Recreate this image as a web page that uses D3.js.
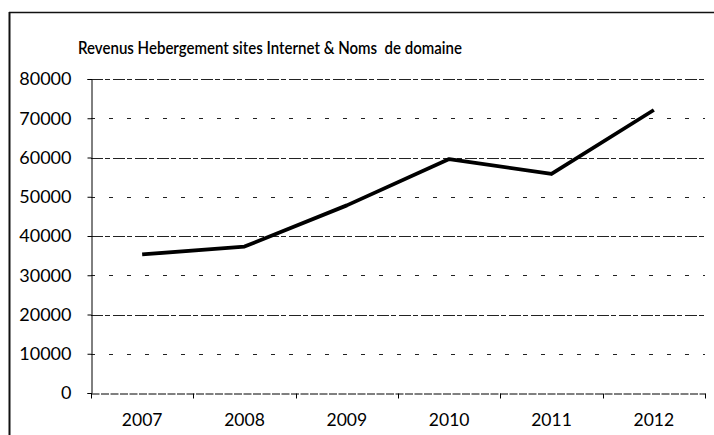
<!DOCTYPE html>
<html>
<head>
<meta charset="utf-8">
<script src="https://cdn.jsdelivr.net/npm/d3@7"></script>
<style>
  html, body { margin: 0; padding: 0; background: #fff; }
  svg { display: block; }
</style>
</head>
<body>
<svg id="chart" width="714" height="435"></svg>
<script>
const title = "Revenus Hebergement sites Internet & Noms  de domaine";
const years = ["2007", "2008", "2009", "2010", "2011", "2012"];
const revenues = [35300, 37300, 47800, 59600, 55800, 72100];
const yTicks = [0, 10000, 20000, 30000, 40000, 50000, 60000, 70000, 80000];

const svg = d3.select("#chart");
const margin = { left: 91, right: 9, top: 79, bottom: 42 };
const W = 714, H = 435;

const x = d3.scaleBand().domain(years).range([margin.left, W - margin.right]);
const y = d3.scaleLinear().domain([0, 80000]).range([H - margin.bottom, margin.top]);

// outer frame (left and top edges visible)
svg.append("line").attr("x1", 9.5).attr("x2", 9.5).attr("y1", 12).attr("y2", H)
  .attr("stroke", "#111").attr("stroke-width", 2);
svg.append("line").attr("x1", 9).attr("x2", W).attr("y1", 12.5).attr("y2", 12.5)
  .attr("stroke", "#111").attr("stroke-width", 1.5);

// title
svg.append("text").attr("x", 78).attr("y", 54)
  .attr("text-anchor", "start")
  .attr("font-family", "Lato, 'Open Sans', sans-serif")
  .attr("font-size", 18).attr("fill", "#000")
  .attr("font-weight", 600)
  .attr("textLength", 384).attr("lengthAdjust", "spacingAndGlyphs")
  .style("white-space", "pre")
  .text(title);

// gridlines
svg.append("g").selectAll("line").data(yTicks.filter(d => d > 0)).join("line")
  .attr("x1", margin.left).attr("x2", W - margin.right)
  .attr("y1", d => Math.round(y(d)) + 0.5).attr("y2", d => Math.round(y(d)) + 0.5)
  .attr("stroke", "#222").attr("stroke-width", 1)
  .attr("stroke-dasharray", d => (d / 10000) % 2 === 0 ? "12,2,5,3" : "4,14");

// y axis
const yAxis = d3.axisLeft(y).tickValues(yTicks).tickFormat(d3.format("d")).tickSize(4).tickPadding(16);
const gy = svg.append("g").attr("transform", `translate(${margin.left + 0.5},0)`).call(yAxis);
gy.select(".domain").attr("stroke", "#000");
gy.selectAll(".tick line").attr("stroke", "#000");
gy.selectAll(".tick text")
  .attr("font-family", "Lato, 'Open Sans', sans-serif")
  .attr("font-size", 18).attr("fill", "#000");

// x axis
const xAxis = d3.axisBottom(x).tickSize(0).tickPadding(20);
const gx = svg.append("g").attr("transform", `translate(0,${Math.round(y(0)) + 0.5})`).call(xAxis);
gx.select(".domain").attr("stroke", "#000").attr("stroke-dasharray", "8,1.5");
gx.selectAll(".tick text")
  .attr("font-family", "Lato, 'Open Sans', sans-serif")
  .attr("font-size", 17.5).attr("fill", "#000");
// band boundary ticks
const bounds = years.map(d => x(d)).concat([x(years[years.length - 1]) + x.bandwidth()]);
gx.append("g").selectAll("line").data(bounds).join("line")
  .attr("x1", d => Math.round(d) + 0.5).attr("x2", d => Math.round(d) + 0.5)
  .attr("y1", 0).attr("y2", 5).attr("stroke", "#000");

// data line
const line = d3.line()
  .x((d, i) => x(years[i]) + x.bandwidth() / 2)
  .y(d => y(d));
svg.append("path").datum(revenues)
  .attr("d", line)
  .attr("fill", "none").attr("stroke", "#000")
  .attr("stroke-width", 3.8).attr("stroke-linejoin", "round");
</script>
</body>
</html>
